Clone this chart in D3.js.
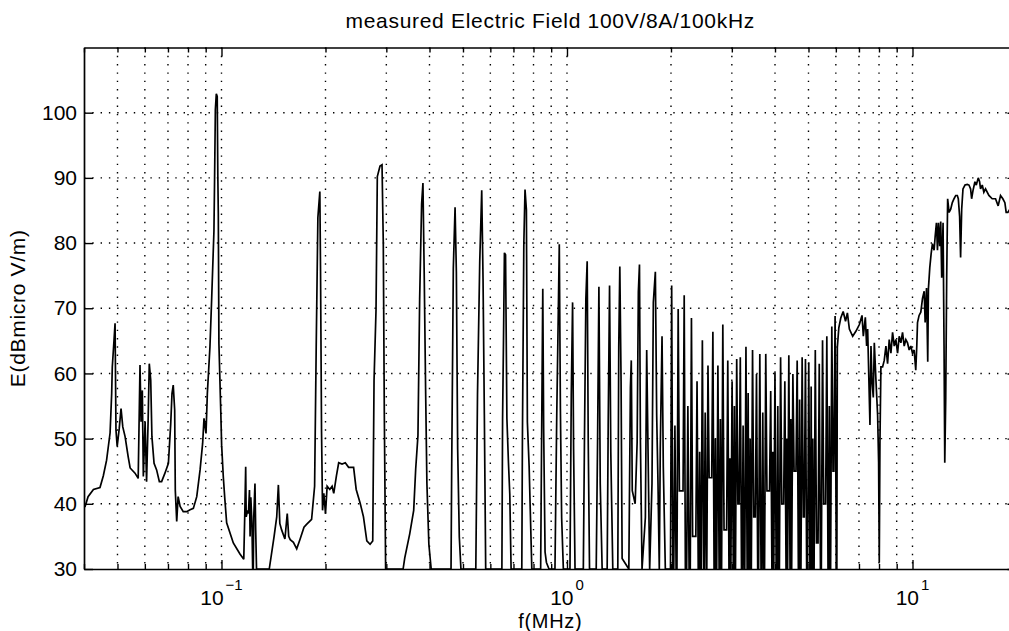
<!DOCTYPE html>
<html><head><meta charset="utf-8">
<script src="https://cdn.jsdelivr.net/npm/d3@7"></script>
<style>
html,body{margin:0;padding:0;background:#fff;overflow:hidden}
svg{display:block;background:#fff}
text{font-family:"Liberation Sans",Arial,Helvetica,sans-serif;fill:#000}
</style></head><body>
<svg id="chart" width="1009" height="631"></svg>
<script>
const chartTitle = "measured Electric Field 100V/8A/100kHz";
const xAxisLabel = "f(MHz)";
const yAxisLabel = "E(dBmicro V/m)";
const xDomain = [0.04, 20];
const yDomain = [30, 110];
const yTickValues = [30, 40, 50, 60, 70, 80, 90, 100];
const xMajorTicks = [0.1, 1, 10];
const xMajorExponents = ["\u22121", "0", "1"];

// measured spectrum, [frequency in MHz, field in dB(microV/m)]
const band1 = [[0.0400,39.5],[0.0403,39.6],[0.0411,41.1],[0.0426,42.2],[0.0445,42.5],[0.0455,44.3],[0.0465,46.7],[0.0476,50.9],[0.0481,56.9],[0.0483,61.0],[0.0489,65.4],[0.0492,67.7],[0.0495,51.3],[0.0499,48.8],[0.0506,51.6],[0.0512,54.6],[0.0518,51.8],[0.0526,50.3],[0.0537,47.2],[0.0544,45.5],[0.0562,44.7],[0.0574,43.9],[0.0581,61.3],[0.0585,52.6],[0.0590,57.4],[0.0594,44.2],[0.0601,52.6],[0.0607,43.4],[0.0613,52.3],[0.0618,61.5],[0.0624,59.0],[0.0629,50.3],[0.0638,46.2],[0.0649,45.2],[0.0661,43.4],[0.0671,43.4],[0.0686,44.7],[0.0702,46.2],[0.0713,52.3],[0.0719,56.9],[0.0725,58.2],[0.0732,54.4],[0.0735,42.1],[0.0742,37.3],[0.0749,41.1],[0.0759,39.6],[0.0775,38.8],[0.0793,38.8],[0.0811,39.1],[0.0829,39.3],[0.0848,41.1],[0.0867,45.2],[0.0882,49.3],[0.0890,53.1],[0.0902,50.8],[0.0910,56.9],[0.0926,64.1],[0.0937,71.7],[0.0951,81.9],[0.0955,89.7],[0.0960,100.5],[0.0966,102.9],[0.0972,102.5],[0.0976,90.0],[0.0979,84.6],[0.0983,64.6],[0.0995,54.4],[0.1001,49.0],[0.1012,44.2],[0.1023,40.6],[0.1035,37.1],[0.1082,34.0],[0.1131,32.3],[0.1160,31.5],[0.1168,38.5],[0.1175,45.7],[0.1179,38.0],[0.1190,39.0],[0.1197,38.5],[0.1205,42.1],[0.1210,35.0],[0.1216,41.0],[0.1225,37.0],[0.1231,30.0],[0.1236,30.0],[0.1240,38.0],[0.1250,43.1],[0.1256,36.0],[0.1263,30.0]];

const band2 = [[0.1375,30.0],[0.1420,35.0],[0.1445,38.0],[0.1461,42.9],[0.1475,37.0],[0.1493,36.0],[0.1526,34.6],[0.1550,38.5],[0.1565,35.0],[0.1581,34.5],[0.1615,34.1],[0.1651,33.1],[0.1689,34.6],[0.1733,36.4],[0.1760,36.8],[0.1823,37.6],[0.1860,42.7],[0.1880,64.1],[0.1901,83.9],[0.1926,87.9],[0.1935,75.6],[0.1948,51.0],[0.1961,39.0],[0.1978,41.6],[0.2000,38.5],[0.2022,42.7],[0.2058,42.2],[0.2090,42.7],[0.2113,41.6],[0.2151,44.3],[0.2184,46.3],[0.2233,46.1],[0.2282,46.3],[0.2333,45.6],[0.2412,45.6],[0.2454,42.2],[0.2520,40.1],[0.2576,38.0],[0.2634,34.3],[0.2692,33.8],[0.2740,34.3],[0.2764,58.9],[0.2801,69.8],[0.2825,90.2],[0.2876,91.8],[0.2915,92.0],[0.2940,79.8],[0.2960,53.7],[0.2986,30.0],[0.3355,30.0],[0.3392,31.7],[0.3506,35.4],[0.3600,39.0],[0.3648,45.3],[0.3704,50.5],[0.3746,71.4],[0.3795,86.0],[0.3829,89.2],[0.3863,74.5],[0.3897,57.8],[0.3931,43.2],[0.3983,33.8],[0.4045,30.0],[0.4617,30.0],[0.4638,45.8],[0.4688,76.1],[0.4743,85.5],[0.4784,75.6],[0.4826,48.4],[0.4879,34.9],[0.4932,30.0],[0.5446,30.0],[0.5508,56.8],[0.5591,77.2],[0.5665,88.1],[0.5715,74.5],[0.5765,53.7],[0.5817,30.0]];

const band3 = [[0.6480,30.0],[0.6510,53.1],[0.6550,65.1],[0.6590,78.5],[0.6640,78.2],[0.6700,53.1],[0.6770,46.3],[0.6830,41.5],[0.6890,30.0],[0.7400,30.0],[0.7430,49.9],[0.7500,79.8],[0.7560,88.2],[0.7630,85.1],[0.7680,52.5],[0.7770,45.7],[0.7910,30.0],[0.8390,30.0],[0.8450,52.0],[0.8510,73.0],[0.8560,51.5],[0.8640,32.6],[0.8720,31.0],[0.8870,30.0],[0.9230,30.0],[0.9340,53.6],[0.9420,66.7],[0.9500,79.8],[0.9570,54.6],[0.9650,37.9],[0.9760,30.0],[1.020,30.0],[1.029,56.7],[1.038,70.9],[1.045,48.4],[1.055,30.0],[1.115,30.0],[1.124,51.0],[1.134,71.4],[1.144,77.2],[1.152,49.9],[1.162,30.0],[1.215,30.0],[1.226,49.4],[1.237,73.3],[1.248,43.1],[1.264,30.0],[1.307,30.0],[1.316,52.0],[1.328,73.5],[1.339,48.0],[1.357,30.0],[1.403,30.0],[1.412,64.1],[1.422,76.4],[1.434,58.8],[1.444,31.6],[1.510,30.0],[1.526,57.8],[1.535,62.0],[1.545,42.0],[1.575,40.0],[1.596,49.4],[1.609,72.5],[1.621,76.7],[1.631,49.9],[1.649,30.0],[1.686,37.9],[1.701,63.6],[1.716,48.4],[1.735,30.0],[1.762,43.1],[1.778,70.9],[1.802,75.6],[1.818,53.6],[1.834,43.1],[1.850,30.0],[1.862,48.4],[1.884,65.7],[1.900,45.7],[1.926,30.0]];

const band4 = [[1.993,30],[2.009,73.5],[2.025,30],[2.037,30],[2.053,52],[2.069,30],[2.081,30],[2.098,69.9],[2.115,42],[2.167,42],[2.184,72.0],[2.201,30],[2.220,30],[2.238,55],[2.256,30],[2.274,30],[2.292,68.5],[2.310,35],[2.360,35],[2.379,58.8],[2.398,30],[2.410,30],[2.421,48],[2.433,30],[2.445,30],[2.465,65.1],[2.485,30],[2.495,30],[2.512,54],[2.529,30],[2.539,30],[2.559,61.2],[2.579,44],[2.623,44],[2.644,66.4],[2.665,30],[2.675,30],[2.688,50],[2.700,30],[2.712,30],[2.734,61.2],[2.756,30],[2.766,30],[2.779,53],[2.792,30],[2.802,30],[2.825,67.5],[2.848,36],[2.897,36],[2.920,62.0],[2.943,30],[2.952,30],[2.962,47],[2.972,30],[2.981,30],[3.005,58.8],[3.029,30],[3.039,30],[3.051,55],[3.063,30],[3.074,30],[3.099,62.2],[3.124,40],[3.149,40],[3.174,62.5],[3.199,30],[3.215,30],[3.234,52],[3.253,30],[3.270,30],[3.296,64.1],[3.322,30],[3.332,30],[3.345,57],[3.358,30],[3.377,30],[3.390,50],[3.403,30],[3.416,30],[3.444,63.6],[3.472,38],[3.508,38],[3.536,59.9],[3.564,30],[3.586,30],[3.615,63.0],[3.644,30],[3.665,30],[3.687,54],[3.709,30],[3.731,30],[3.761,63.0],[3.791,42],[3.856,42],[3.887,57.3],[3.918,30],[3.930,30],[3.942,48],[3.954,30],[3.967,30],[3.999,60.2],[4.031,30],[4.055,30],[4.075,55],[4.095,30],[4.119,30],[4.152,62.5],[4.185,40],[4.237,40],[4.271,58.8],[4.305,30],[4.316,30],[4.328,50],[4.340,30],[4.351,30],[4.386,62.8],[4.421,30],[4.432,30],[4.445,53],[4.458,30],[4.470,30],[4.506,59.9],[4.542,45],[4.600,45],[4.637,62.0],[4.674,30],[4.694,30],[4.714,56],[4.734,30],[4.755,30],[4.793,62.5],[4.831,38],[4.861,38],[4.900,62.2],[4.939,30],[4.969,30],[5.009,61.7],[5.049,30],[5.070,30],[5.090,58],[5.110,30],[5.125,30],[5.145,50],[5.165,30],[5.190,30],[5.232,63.6],[5.274,34],[5.329,34],[5.372,61.5],[5.415,30],[5.447,30],[5.491,65.1],[5.535,40],[5.605,40],[5.650,65.7],[5.695,30],[5.720,30],[5.745,55],[5.770,30],[5.794,30],[5.841,67.2],[5.888,45],[5.922,45],[5.970,68.8],[6.018,30],[6.040,30]];

const band5 = [[6.060,64.0],[6.120,67.0],[6.200,68.5],[6.300,69.5],[6.400,68.0],[6.480,69.3],[6.566,66.8],[6.713,65.7],[6.864,66.5],[7.018,67.5],[7.143,68.9],[7.206,65.7],[7.303,68.6],[7.367,64.2],[7.417,66.8],[7.532,52.1],[7.583,64.2],[7.634,58.9],[7.701,56.3],[7.753,64.7],[7.839,58.9],[7.926,53.6],[7.979,46.3],[8.014,31.0],[8.050,49.4],[8.102,61.0],[8.193,61.0],[8.284,62.0],[8.377,64.2],[8.470,61.5],[8.564,65.2],[8.660,63.1],[8.757,66.3],[8.855,64.2],[8.953,65.2],[9.053,63.1],[9.152,65.7],[9.254,64.7],[9.358,66.3],[9.462,64.2],[9.567,65.2],[9.674,64.7],[9.781,63.6],[9.890,64.2],[10.00,63.1],[10.11,63.6],[10.22,60.5],[10.29,64.2],[10.34,67.8],[10.45,68.9],[10.57,69.4],[10.69,71.5],[10.81,72.6],[10.88,67.8],[10.98,73.1],[11.07,61.8],[11.12,73.0],[11.22,76.2],[11.32,78.3],[11.42,79.9],[11.55,78.9],[11.63,81.0],[11.73,83.1],[11.81,78.9],[11.89,83.1],[11.99,79.5],[12.07,83.3],[12.15,74.7],[12.26,83.1],[12.34,64.2],[12.40,46.3],[12.48,56.3],[12.56,74.7],[12.64,86.8],[12.76,84.7],[12.90,85.2],[13.04,86.2],[13.19,86.8],[13.34,87.3],[13.48,87.3],[13.57,86.8],[13.69,84.1],[13.78,77.8],[13.88,85.2],[14.00,88.3],[14.19,88.9],[14.41,89.0],[14.57,88.9],[14.73,88.3],[14.83,86.8],[14.96,88.0],[15.16,89.4],[15.30,88.9],[15.50,90.0],[15.64,89.4],[15.74,88.3],[15.92,88.9],[16.09,87.8],[16.27,88.3],[16.64,87.3],[17.01,86.8],[17.39,86.8],[17.70,85.7],[17.98,87.3],[18.26,86.8],[18.51,86.2],[18.67,84.7],[18.88,84.7],[19.30,85.5],[20.00,86.0]];

const spectrum = band1.concat(band2, band3, band4, band5);

const svg = d3.select("#chart");
const L = 84, R = 1016.5, T = 47.5, B = 569;
const x = d3.scaleLog().domain(xDomain).range([L, R]);
const y = d3.scaleLinear().domain(yDomain).range([B, T]);

// dotted grid
const allLogTicks = x.ticks();
const gridX = allLogTicks.filter(v => v > xDomain[0] * 1.001 && v < xDomain[1] * 0.999);
const gridY = yTickValues.filter(v => v > yDomain[0]);
const grid = svg.append("g").attr("stroke", "#000").attr("stroke-width", 1.4)
  .attr("stroke-dasharray", "1.4 6.9");
grid.selectAll("line.gx").data(gridX).join("line").attr("class", "gx")
  .attr("x1", d => x(d)).attr("x2", d => x(d)).attr("y1", T).attr("y2", B);
grid.selectAll("line.gy").data(gridY).join("line").attr("class", "gy")
  .attr("x1", L).attr("x2", R).attr("y1", d => y(d)).attr("y2", d => y(d));

// data line
svg.append("clipPath").attr("id", "plotclip").append("rect")
  .attr("x", L).attr("y", T - 1).attr("width", R - L).attr("height", B - T + 2);
const line = d3.line().x(d => x(d[0])).y(d => y(d[1]));
svg.append("path").datum(spectrum)
  .attr("clip-path", "url(#plotclip)")
  .attr("fill", "none").attr("stroke", "#000").attr("stroke-width", 1.7)
  .attr("stroke-linejoin", "miter").attr("stroke-miterlimit", 3)
  .attr("d", line);

// axes
const minorX = allLogTicks.filter(v => !xMajorTicks.some(m => Math.abs(m - v) < 1e-9));
function styleAxis(g) {
  g.attr("font-size", null).attr("font-family", null);
  g.select(".domain").attr("stroke-width", 1.7);
  g.selectAll(".tick line").attr("stroke-width", 1.4);
}
svg.append("g").attr("transform", `translate(0,${B})`)
  .call(d3.axisBottom(x).tickValues(xMajorTicks).tickSize(-9).tickSizeOuter(0).tickFormat(""))
  .call(styleAxis);
svg.append("g").attr("transform", `translate(0,${B})`)
  .call(d3.axisBottom(x).tickValues(minorX).tickSize(-5).tickSizeOuter(0).tickFormat(""))
  .call(g => g.select(".domain").remove()).call(styleAxis);
svg.append("g").attr("transform", `translate(0,${T})`)
  .call(d3.axisTop(x).tickValues(xMajorTicks).tickSize(-9).tickSizeOuter(0).tickFormat(""))
  .call(styleAxis);
svg.append("g").attr("transform", `translate(0,${T})`)
  .call(d3.axisTop(x).tickValues(minorX).tickSize(-5).tickSizeOuter(0).tickFormat(""))
  .call(g => g.select(".domain").remove()).call(styleAxis);
svg.append("g").attr("transform", `translate(${L},0)`)
  .call(d3.axisLeft(y).tickValues(yTickValues).tickSize(-9).tickSizeOuter(0).tickPadding(7).tickFormat(d3.format("d")))
  .call(styleAxis)
  .call(g => g.selectAll(".tick text").attr("font-size", 21));
svg.append("g").attr("transform", `translate(${R},0)`)
  .call(d3.axisRight(y).tickValues(yTickValues).tickSize(-9).tickSizeOuter(0).tickFormat(""))
  .call(styleAxis);

// x tick labels 10^n
const xl = svg.append("g");
xMajorTicks.forEach((v, i) => {
  const t = xl.append("text").attr("x", x(v)).attr("y", 605)
    .attr("text-anchor", "middle").attr("font-size", 21);
  t.append("tspan").text("10");
  t.append("tspan").attr("dy", -15).attr("dx", 2).attr("font-size", 15).text(xMajorExponents[i]);
});

// titles
svg.append("text").attr("x", (L + R) / 2).attr("y", 28).attr("text-anchor", "middle")
  .attr("font-size", 21).attr("letter-spacing", 0.7).text(chartTitle);
svg.append("text").attr("x", (L + R) / 2).attr("y", 628).attr("text-anchor", "middle")
  .attr("font-size", 20).attr("letter-spacing", 0.7).text(xAxisLabel);
svg.append("text").attr("transform", `translate(25,${(T + B) / 2}) rotate(-90)`)
  .attr("text-anchor", "middle").attr("font-size", 21).attr("letter-spacing", 0.7).text(yAxisLabel);
</script>
</body></html>
